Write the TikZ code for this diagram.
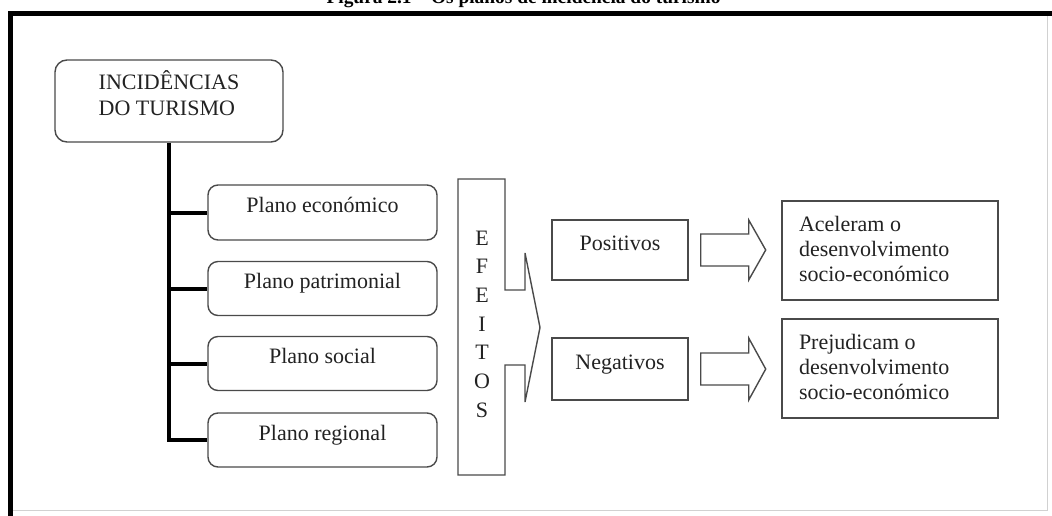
\documentclass[tikz,border=0pt]{standalone}
\usepackage{fontspec}
\setmainfont{Liberation Serif}
\usetikzlibrary{calc}
\definecolor{boxgray}{HTML}{4A4A4A}
\definecolor{txt}{HTML}{222222}
\begin{document}
\begin{tikzpicture}[x=1pt,y=-1pt,
  box/.style={draw=boxgray, line width=1.4pt, text=txt, inner sep=0pt,
    font=\fontsize{22}{25}\selectfont},
  rbox/.style={box, rounded corners=10pt},
  onebase/.style={text height=8pt, text depth=8pt},
  tree/.style={line width=4pt, black, line join=miter},
  blockarrow/.style={draw=boxgray, line width=1.4pt, line join=miter},
  frameline/.style={line width=5pt, black, line join=miter},
]
\useasboundingbox (0,0) rectangle (1052,515);
\clip (0,0) rectangle (1052,515);

% page frame
\draw[frameline] (10,520) -- (10,13) -- (1060,13);
\draw[black!18, line width=1pt] (1047,16) -- (1047,510) -- (13,510);

% title (cut off at the top)
\node[anchor=base, inner sep=0pt, text=black,
  font=\bfseries\fontsize{19.4}{23}\selectfont] (title) at (523.5,3)
  {Figura 2.1 – Os planos de incidência do turismo};

% root
\node[rbox, rounded corners=12pt, minimum width=228pt, minimum height=82pt,
  text height=15pt, text depth=38.4pt, font=\fontsize{22}{26}\selectfont] (inc) at (169,101)
  {\begin{tabular}[t]{@{}l@{}}INCIDÊNCIAS\\DO TURISMO\end{tabular}};

% planes
\node[rbox, onebase, minimum width=229pt, minimum height=55pt] (p1) at (322.5,212.5) {Plano económico};
\node[rbox, onebase, minimum width=229pt, minimum height=54pt] (p2) at (322.5,288.5) {Plano patrimonial};
\node[rbox, onebase, minimum width=229pt, minimum height=54pt] (p3) at (322.5,363.5) {Plano social};
\node[rbox, onebase, minimum width=229pt, minimum height=54pt] (p4) at (322.5,440) {Plano regional};

\draw[tree] (inc.south) |- (p4.west);
\foreach \n in {p1,p2,p3} \draw[tree] (inc.south |- \n.west) -- (\n.west);

% EFEITOS
\draw[blockarrow] (458,179) -- (505,179) -- (505,290) -- (525,290) -- (525,253)
  -- (540,327.5) -- (525,402) -- (525,365) -- (505,365) -- (505,475) -- (458,475) -- cycle;
\node[anchor=base, inner sep=0pt, text=txt, font=\fontsize{22}{28.67}\selectfont] (ef) at (482,245.3)
  {\begin{tabular}[t]{@{}c@{}}E\\F\\E\\I\\T\\O\\S\end{tabular}};

% effects
\node[box, onebase, minimum width=136pt, minimum height=60pt] (pos) at (620,250) {Positivos};
\node[box, onebase, minimum width=136pt, minimum height=62pt] (neg) at (620,369) {Negativos};

\node[box, minimum width=216pt, minimum height=99pt, text height=15pt, text depth=53pt] (acc) at (890,250.5)
  {\begin{tabular}[t]{@{}p{182pt}@{}}Aceleram o\\desenvolvimento\\socio-económico\end{tabular}};
\node[box, minimum width=216pt, minimum height=99pt, text height=15pt, text depth=53pt] (prej) at (890,368.5)
  {\begin{tabular}[t]{@{}p{182pt}@{}}Prejudicam o\\desenvolvimento\\socio-económico\end{tabular}};

% block arrows
\draw[blockarrow] ($(pos.east)+(12,-16)$) -- ++(48,0) -- ++(0,-14) -- ($(pos.east)+(77,0)$)
  -- ($(pos.east)+(60,30)$) -- ++(0,-14) -- ($(pos.east)+(12,16)$) -- cycle;
\draw[blockarrow] ($(neg.east)+(12,-16)$) -- ++(48,0) -- ++(0,-15) -- ($(neg.east)+(77,0)$)
  -- ($(neg.east)+(60,31)$) -- ++(0,-15) -- ($(neg.east)+(12,16)$) -- cycle;
\end{tikzpicture}
\end{document}
